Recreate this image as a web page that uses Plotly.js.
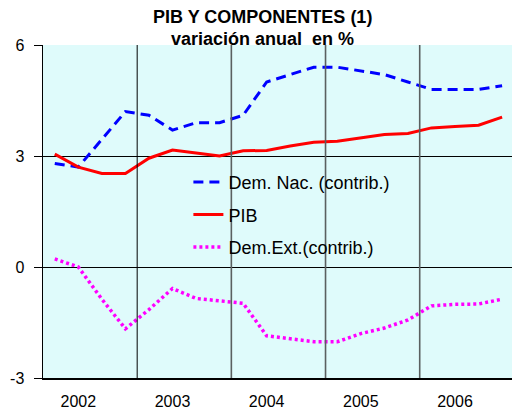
<!DOCTYPE html>
<html>
<head>
<meta charset="utf-8">
<script src="https://cdn.plot.ly/plotly-3.0.1.min.js"></script>
<style>
  html, body { margin: 0; padding: 0; background: #fff; }
  #chart { width: 512px; height: 414px; }
</style>
</head>
<body>
<div id="chart"></div>
<script>
const years = [2002, 2003, 2004, 2005, 2006];
const quarters = [
  "2002T1", "2002T2", "2002T3", "2002T4",
  "2003T1", "2003T2", "2003T3", "2003T4",
  "2004T1", "2004T2", "2004T3", "2004T4",
  "2005T1", "2005T2", "2005T3", "2005T4",
  "2006T1", "2006T2", "2006T3", "2006T4"
];

const demNac = [2.8, 2.7, 3.45, 4.2, 4.1, 3.7, 3.9, 3.9, 4.1, 5.0, 5.2, 5.4, 5.4, 5.3, 5.2, 5.0, 4.8, 4.8, 4.8, 4.9];
const pib = [3.05, 2.7, 2.53, 2.53, 2.94, 3.16, 3.08, 3.0, 3.14, 3.15, 3.27, 3.37, 3.4, 3.5, 3.58, 3.61, 3.76, 3.8, 3.83, 4.05];
const demExt = [0.22, 0.0, -0.87, -1.67, -1.15, -0.58, -0.85, -0.92, -0.98, -1.86, -1.93, -2.02, -2.02, -1.8, -1.65, -1.43, -1.05, -1.01, -1.0, -0.87];

const yTicks = [-3, 0, 3, 6];
const titleLines = ["PIB Y COMPONENTES (1)", "variación anual  en %"];

// quarter label -> position on a year scale (mid-quarter)
const xq = quarters.map(q => Number(q.slice(0, 4)) + (Number(q.slice(5)) - 0.5) / 4);

const font = "Liberation Sans, Arial, sans-serif";

const traces = [
  {
    type: "scatter", mode: "lines", name: "Dem. Nac. (contrib.)",
    x: xq, y: demNac, legendgroup: "a",
    line: { color: "#0000ff", width: 3, dash: "10px,6px" }
  },
  {
    type: "scatter", mode: "lines", name: "PIB",
    x: xq, y: pib, legendgroup: "b",
    line: { color: "#ff0000", width: 3 }
  },
  {
    type: "scatter", mode: "lines", name: "Dem.Ext.(contrib.)",
    x: xq, y: demExt, legendgroup: "c",
    line: { color: "#ff00ff", width: 3.5, dash: "3px,3px" }
  }
];

// vertical separators between years
const shapes = years.slice(1).map((y, i) => ({
  type: "line", xref: "x", yref: "paper",
  x0: y, x1: y, y0: 0, y1: 1,
  line: { color: i === 0 ? "#000000" : "#5a6060", width: i === 0 ? 1 : 1.6 },
  layer: "above"
}));

const annotations = titleLines.map((t, i) => ({
  text: "<b>" + t + "</b>",
  xref: "paper", yref: "paper",
  x: 0.469, y: i === 0 ? 1.0826 : 1.018,
  xanchor: "center", yanchor: "middle",
  showarrow: false,
  font: { family: font, size: 18, color: "#000" }
}));

const layout = {
  width: 512,
  height: 414,
  margin: { l: 43, r: 0, t: 45, b: 36 },
  paper_bgcolor: "#ffffff",
  plot_bgcolor: "#dffbfb",
  font: { family: font, size: 16, color: "#000" },
  showlegend: true,
  xaxis: {
    range: [2002, 2006.98],
    tickvals: years.map(y => y + 0.375),
    ticktext: years.map(String),
    showgrid: false,
    zeroline: false,
    showline: true,
    linecolor: "#000",
    linewidth: 1.5,
    ticks: "",
    ticklabelstandoff: 8,
    tickfont: { family: font, size: 16, color: "#000" }
  },
  yaxis: {
    range: [-3, 6],
    tickvals: yTicks,
    ticktext: yTicks.map(String),
    showgrid: true,
    gridcolor: "#000",
    gridwidth: 1,
    zeroline: true,
    zerolinecolor: "#000",
    zerolinewidth: 1,
    showline: true,
    linecolor: "#000",
    linewidth: 1.5,
    ticks: "outside",
    ticklen: 8,
    tickcolor: "#000",
    ticklabelstandoff: 6,
    tickfont: { family: font, size: 16, color: "#000" }
  },
  legend: {
    x: 0.31, xanchor: "left",
    y: 0.643, yanchor: "top",
    bgcolor: "rgba(0,0,0,0)",
    traceorder: "grouped",
    tracegroupgap: 6,
    font: { family: font, size: 18, color: "#000" }
  },
  annotations,
  shapes
};

Plotly.newPlot("chart", traces, layout, { displayModeBar: false, staticPlot: true });
</script>
</body>
</html>
